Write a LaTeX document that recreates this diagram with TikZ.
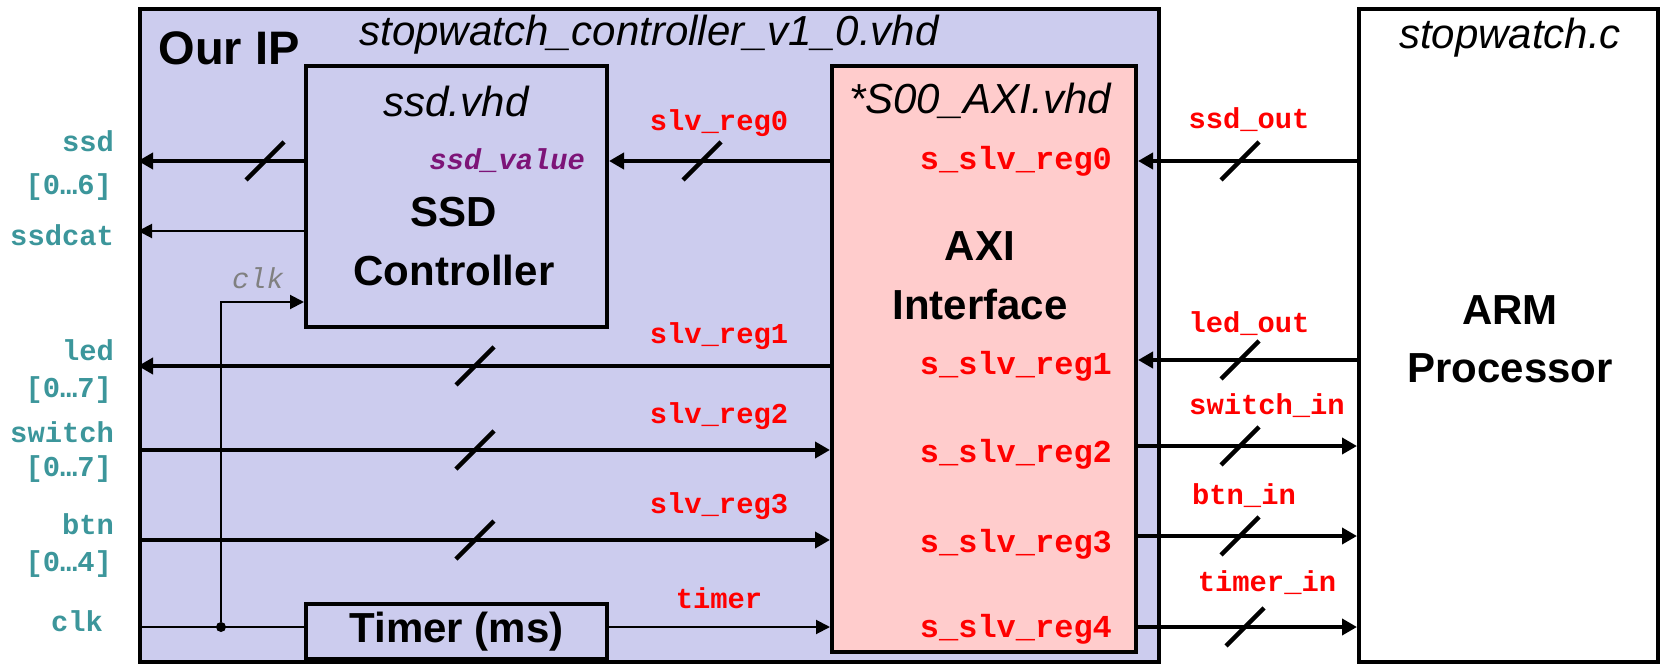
\documentclass[tikz,border=0pt]{standalone}
\usepackage{fontspec}
\setmainfont{Liberation Sans}
\setmonofont{Liberation Mono}
\usetikzlibrary{arrows.meta}
\definecolor{ipfill}{RGB}{204,204,238}
\definecolor{axifill}{RGB}{255,204,204}
\definecolor{portcol}{RGB}{60,150,155}
\definecolor{regcol}{RGB}{255,0,0}
\definecolor{valcol}{RGB}{125,20,120}
\begin{document}
\begin{tikzpicture}[x=0.5pt, y=-0.5pt]
\tikzstyle{blk}=[draw, line width=2pt, inner sep=0pt, anchor=north west]
\tikzstyle{filename}=[font=\fontsize{21}{24}\selectfont\itshape]
\tikzstyle{big}=[font=\fontsize{21}{25}\selectfont\bfseries]
\tikzstyle{port}=[text=portcol, font=\fontsize{14.4}{16}\selectfont\ttfamily\bfseries, anchor=east]
\tikzstyle{reg}=[text=regcol, font=\fontsize{14.4}{16}\selectfont\ttfamily\bfseries]
\tikzstyle{sreg}=[text=regcol, font=\fontsize{16}{18}\selectfont\ttfamily\bfseries, anchor=east]
\tikzstyle{bus}=[line width=2.3pt, -{Triangle[length=7.5pt, width=8pt]}]
\tikzstyle{wire}=[line width=1pt, -{Triangle[length=7pt, width=7pt]}]
\tikzstyle{junction}=[circle, fill, inner sep=0pt, minimum size=5pt]
\tikzset{slashmark/.pic={\draw[line width=2.2pt] (-19,19) -- (19,-19);}}
\useasboundingbox (0,0) rectangle (1662,664);

% blocks
\node[blk, fill=ipfill, minimum width=509.5pt, minimum height=326.5pt] (ourip) at (138,7) {};
\node[blk, fill=white, minimum width=149.5pt, minimum height=326.5pt] (armbox) at (1357,7) {};
\node[blk, fill=ipfill, minimum width=150.5pt, minimum height=130.5pt] (ssdbox) at (304,64) {};
\node[blk, fill=axifill, minimum width=152pt, minimum height=293pt] (axibox) at (830,64) {};
\node[blk, fill=ipfill, minimum width=150.5pt, minimum height=27.5pt] (timerbox) at (304,602) {};

% block texts
\node[font=\fontsize{23.5}{26}\selectfont\bfseries] (ourlbl) at (229,48) {Our IP};
\node[filename] (topfile) at (649,35) {stopwatch\_controller\_v1\_0.vhd};
\node[filename] (ssdfile) at (456,101) {ssd.vhd};
\node[big] (ssdname) at (454,212) {SSD};
\node[big] (ssdname2) at (454,270) {Controller};
\node[filename] (axifile) at (980,101) {*S00\_AXI.vhd};
\node[big] (axiname) at (980,246) {AXI};
\node[big] (axiname2) at (980,304) {Interface};
\node[big] (timername) at (timerbox.center) {Timer (ms)};
\node[filename] (armfile) at (1510,38) {stopwatch.c};
\node[big] (armname) at (1510,310) {ARM};
\node[big] (armname2) at (1510,368) {Processor};
\node[text=valcol, font=\fontsize{14.4}{16}\selectfont\ttfamily\bfseries\itshape, anchor=east] (ssdval) at (592,161) {ssd\_value};

% rows
\coordinate (rssd) at (0,161);
\coordinate (rcat) at (0,231);
\coordinate (rclkin) at (0,302);
\coordinate (rled) at (0,366);
\coordinate (rsw) at (0,450);
\coordinate (rbtn) at (0,540);
\coordinate (rclk) at (0,627);
\coordinate (rout0) at (0,161);
\coordinate (rout1) at (0,360);
\coordinate (rin2) at (0,446);
\coordinate (rin3) at (0,536);
\coordinate (rin4) at (0,627);

% connectors inside our IP
\draw[bus] (ssdbox.west |- rssd) -- (ourip.west |- rssd);
\draw[wire] (ssdbox.west |- rcat) -- (ourip.west |- rcat);
\draw[bus] (axibox.west |- rssd) -- (ssdbox.east |- rssd);
\draw[bus] (axibox.west |- rled) -- (ourip.west |- rled);
\draw[bus] (ourip.west |- rsw) -- (axibox.west |- rsw);
\draw[bus] (ourip.west |- rbtn) -- (axibox.west |- rbtn);
\draw[line width=1pt] (ourip.west |- rclk) -- (timerbox.west |- rclk);
\node[junction] (clkdot) at (221,627) {};
\draw[wire] (clkdot) |- (ssdbox.west |- rclkin);
\draw[wire] (timerbox.east |- rclk) -- (axibox.west |- rclk);

% connectors to the processor
\draw[bus] (armbox.west |- rout0) -- (axibox.east |- rout0);
\draw[bus] (armbox.west |- rout1) -- (axibox.east |- rout1);
\draw[bus] (axibox.east |- rin2) -- (armbox.west |- rin2);
\draw[bus] (axibox.east |- rin3) -- (armbox.west |- rin3);
\draw[bus] (axibox.east |- rin4) -- (armbox.west |- rin4);

% bus width marks
\pic at (265,161) {slashmark};
\pic at (702,161) {slashmark};
\pic at (475,366) {slashmark};
\pic at (475,450) {slashmark};
\pic at (475,540) {slashmark};
\pic at (1240,161) {slashmark};
\pic at (1240,360) {slashmark};
\pic at (1240,446) {slashmark};
\pic at (1240,536) {slashmark};
\pic at (1245,627) {slashmark};

% port labels
\node[port] (pssd) at (121,141) {ssd};
\node[port] (pssdw) at (119,187) {[0…6]};
\node[port] (pcat) at (121,235) {ssdcat};
\node[port] (pled) at (121,350) {led};
\node[port] (pledw) at (119,390) {[0…7]};
\node[port] (psw) at (121,432) {switch};
\node[port] (psww) at (119,469) {[0…7]};
\node[port] (pbtn) at (121,524) {btn};
\node[port] (pbtnw) at (119,564) {[0…4]};
\node[port] (pclk) at (110,621) {clk};
\node[text=gray, font=\fontsize{14.4}{16}\selectfont\ttfamily\itshape] (clklbl) at (258,278) {clk};

% register labels
\node[reg] (lreg0) at (719,123) {slv\_reg0};
\node[reg] (lreg1) at (719,336) {slv\_reg1};
\node[reg] (lreg2) at (719,416) {slv\_reg2};
\node[reg] (lreg3) at (719,506) {slv\_reg3};
\node[reg] (ltimer) at (719,598) {timer};
\node[sreg] (sreg0) at (1119,161) {s\_slv\_reg0};
\node[sreg] (sreg1) at (1119,366) {s\_slv\_reg1};
\node[sreg] (sreg2) at (1119,454) {s\_slv\_reg2};
\node[sreg] (sreg3) at (1119,544) {s\_slv\_reg3};
\node[sreg] (sreg4) at (1119,629) {s\_slv\_reg4};
\node[reg] (lout0) at (1249,120) {ssd\_out};
\node[reg] (lout1) at (1249,324) {led\_out};
\node[reg] (lin2) at (1267,406) {switch\_in};
\node[reg] (lin3) at (1244,496) {btn\_in};
\node[reg] (lin4) at (1267,583) {timer\_in};
\end{tikzpicture}
\end{document}
